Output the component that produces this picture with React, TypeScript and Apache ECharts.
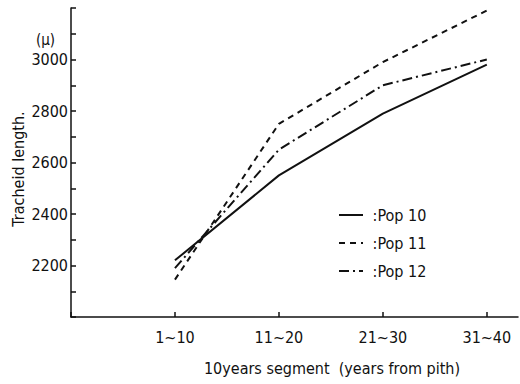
import React, { useEffect, useRef } from "react";
import * as echarts from "echarts";

const categories = ["1~10", "11~20", "21~30", "31~40"];
const pop10 = [2220, 2550, 2790, 2980];
const pop11 = [2145, 2750, 2990, 3190];
const pop12 = [2190, 2650, 2900, 3000];
const seriesNames = ["Pop 10", "Pop 11", "Pop 12"];
const yLabels = [2200, 2400, 2600, 2800, 3000];

const FONT = "DejaVu Sans Condensed";

export default function App() {
  const ref = useRef<HTMLDivElement>(null);
  useEffect(() => {
    if (!ref.current) return;
    const chart = echarts.init(ref.current, undefined, { renderer: "svg" });
    const toPts = (arr: number[]) => arr.map((v, i) => [i + 1, v]);
    const lineBase = { color: "#111", width: 2 };
    chart.setOption({
      animation: false,
      backgroundColor: "#fff",
      textStyle: { fontFamily: FONT, color: "#111" },
      grid: { left: 71, right: 2, top: 8, bottom: 67 },
      xAxis: {
        type: "value",
        min: 0,
        max: 4.3,
        interval: 1,
        splitLine: { show: false },
        axisLine: { lineStyle: { color: "#111", width: 1.5 } },
        axisTick: { inside: true, length: 5, lineStyle: { color: "#111", width: 1.5 } },
        axisLabel: {
          margin: 12,
          fontSize: 16,
          color: "#111",
          fontFamily: FONT,
          showMaxLabel: false,
          formatter: (v: number) => (Number.isInteger(v) && v >= 1 && v <= 4 ? categories[v - 1] : ""),
        },
      },
      yAxis: {
        type: "value",
        min: 2000,
        max: 3200,
        interval: 100,
        splitLine: { show: false },
        axisLine: { lineStyle: { color: "#111", width: 1.5 } },
        axisTick: { inside: true, length: 5, lineStyle: { color: "#111", width: 1.5 } },
        axisLabel: {
          margin: 3,
          fontSize: 16,
          color: "#111",
          fontFamily: FONT,
          formatter: (v: number) => (yLabels.includes(v) ? String(v) : ""),
        },
      },
      legend: {
        orient: "vertical",
        left: 333,
        top: 202,
        itemWidth: 24,
        itemHeight: 14,
        itemGap: 12,
        data: seriesNames,
        itemStyle: { opacity: 0 },
        formatter: (n: string) => " :" + n,
        textStyle: { fontSize: 16, color: "#111", fontFamily: FONT },
      },
      graphic: [
        {
          type: "text",
          left: 36,
          top: 32,
          style: { text: "(μ)", fontSize: 15, fontFamily: FONT, fill: "#111" },
        },
        {
          type: "text",
          x: 18,
          y: 169,
          rotation: Math.PI / 2,
          style: {
            text: "Tracheid length.",
            fontSize: 16,
            fontFamily: FONT,
            fill: "#111",
            align: "center",
            verticalAlign: "middle",
          },
        },
        {
          type: "text",
          x: 332,
          y: 368,
          style: {
            text: "10years segment  (years from pith)",
            fontSize: 16,
            fontFamily: FONT,
            fill: "#111",
            align: "center",
            verticalAlign: "middle",
          },
        },
      ],
      series: [
        {
          name: seriesNames[0],
          type: "line",
          data: toPts(pop10),
          symbol: "none",
          itemStyle: { color: "#111" },
          lineStyle: { ...lineBase, type: "solid" },
        },
        {
          name: seriesNames[1],
          type: "line",
          data: toPts(pop11),
          symbol: "none",
          itemStyle: { color: "#111" },
          lineStyle: { ...lineBase, type: [6, 5] },
        },
        {
          name: seriesNames[2],
          type: "line",
          data: toPts(pop12),
          symbol: "none",
          itemStyle: { color: "#111" },
          lineStyle: { ...lineBase, type: [10, 4, 2, 4] },
        },
      ],
    });
    return () => chart.dispose();
  }, []);
  return <div ref={ref} style={{ width: 520, height: 384, position: "absolute", left: 0, top: 0 }} />;
}
